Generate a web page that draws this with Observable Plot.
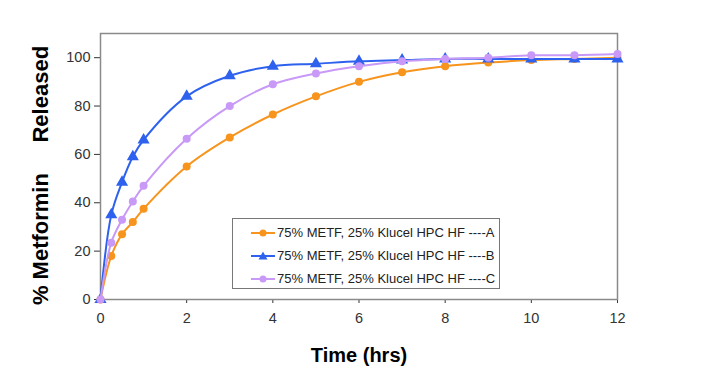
<!DOCTYPE html>
<html>
<head>
<meta charset="utf-8">
<script src="https://cdn.jsdelivr.net/npm/d3@7"></script>
<script src="https://cdn.jsdelivr.net/npm/@observablehq/plot@0.6"></script>
<style>
  html, body { margin: 0; padding: 0; background: #fff; }
  #wrap { position: relative; width: 717px; height: 386px; font-family: "Liberation Sans", Arial, sans-serif; }
  #wrap svg { font-family: "Liberation Sans", Arial, sans-serif; }
  g[aria-label="y-axis label"] text { font-size: 22px; font-weight: bold; fill: #000; }
  g[aria-label="x-axis label"] text { font-size: 20px; font-weight: bold; fill: #000; }
  #legend { position: absolute; left: 232px; top: 218px; width: 268px; height: 71px; border: 1px solid #777; background: #fff; box-sizing: border-box; padding-top: 2px; }
  .row { height: 23px; display: flex; align-items: center; font-size: 13px; color: #222; }
  .row svg { margin-left: 18px; margin-right: 2px; }
</style>
</head>
<body>
<div id="wrap"></div>
<script>
const times = [0, 0.25, 0.5, 0.75, 1, 2, 3, 4, 5, 6, 7, 8, 9, 10, 11, 12];
const seriesA = [0, 18, 27, 32, 37.5, 55, 67, 76.5, 84, 90, 94, 96.5, 98, 99, 99.5, 100];
const seriesB = [0, 35, 48.5, 59, 66, 84, 92.5, 96.5, 97.5, 98.5, 99, 99.5, 99.5, 99.5, 99.5, 99.5];
const seriesC = [0, 23.5, 33, 40.5, 47, 66.5, 80, 89, 93.5, 96.5, 98.5, 99.5, 100, 101, 101, 101.5];
const seriesNames = ["75% METF, 25% Klucel HPC HF ----A", "75% METF, 25% Klucel HPC HF ----B", "75% METF, 25% Klucel HPC HF ----C"];
const seriesColors = ["#f7941d", "#2e62ee", "#c899f7"];
const seriesSymbols = ["circle", "triangle", "circle"];
const xTicks = [0, 2, 4, 6, 8, 10, 12];
const yTicks = [0, 20, 40, 60, 80, 100];

const allSeries = [seriesA, seriesB, seriesC];
const rows = allSeries.flatMap((vals, s) => vals.map((v, i) => ({t: times[i], v, s})));

const marks = [Plot.frame({stroke: "#8a8a8a", strokeWidth: 1.5})];
allSeries.forEach((vals, s) => {
  const d = rows.filter(r => r.s === s);
  marks.push(Plot.line(d, {x: "t", y: "v", stroke: seriesColors[s], strokeWidth: 2, curve: "catmull-rom"}));
  marks.push(Plot.dot(d, {x: "t", y: "v", fill: seriesColors[s], symbol: seriesSymbols[s], r: s === 1 ? 4.5 : 4}));
});

const chart = Plot.plot({
  width: 717,
  height: 386,
  marginLeft: 100,
  marginRight: 100,
  marginTop: 33,
  marginBottom: 87,
  style: {fontSize: "14.5px", color: "#333", background: "transparent"},
  x: {domain: [0, 12], ticks: xTicks, tickSize: 4, tickPadding: 9, label: "Time (hrs)", labelAnchor: "center", labelArrow: "none", labelOffset: 62},
  y: {domain: [0, 110], ticks: yTicks, tickSize: 6, tickPadding: 4, label: "% Metformin\u00a0\u00a0\u00a0\u00a0\u00a0Released", labelAnchor: "center", labelArrow: "none", labelOffset: 68},
  marks
});
document.getElementById("wrap").appendChild(chart);
// shift the rotated y label slightly downward along its direction
d3.select(chart).select('g[aria-label="y-axis label"] text').attr("dx", "-9");

const legend = document.createElement("div");
legend.id = "legend";
seriesNames.forEach((name, s) => {
  const row = document.createElement("div");
  row.className = "row";
  const sym = seriesSymbols[s] === "triangle"
    ? `<path d="M12,1.5 L16.5,9.5 L7.5,9.5 Z" fill="${seriesColors[s]}"/>`
    : `<circle cx="12" cy="6" r="3.5" fill="${seriesColors[s]}"/>`;
  row.innerHTML = `<svg width="24" height="12"><line x1="0" x2="24" y1="6" y2="6" stroke="${seriesColors[s]}" stroke-width="2"/>${sym}</svg><span>${name}</span>`;
  legend.appendChild(row);
});
document.getElementById("wrap").appendChild(legend);
</script>
</body>
</html>
